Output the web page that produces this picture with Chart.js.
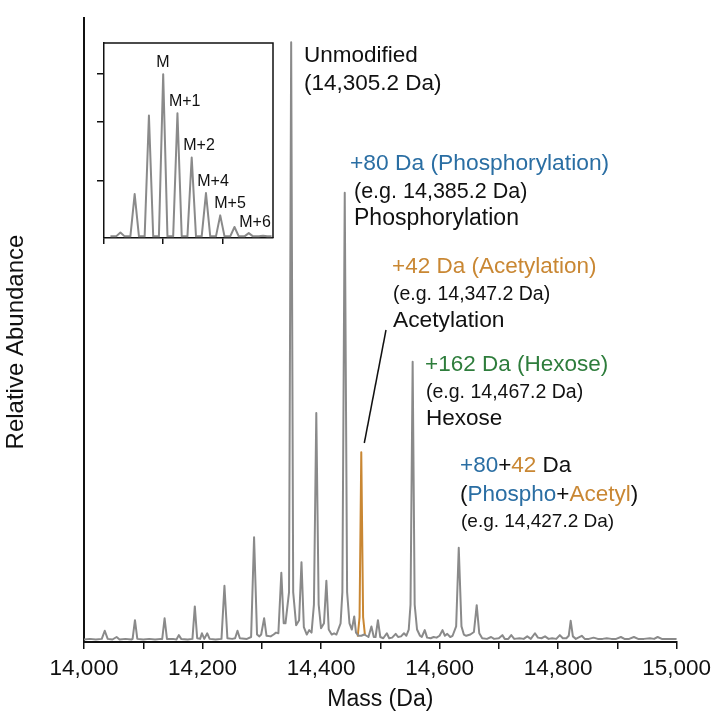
<!DOCTYPE html>
<html>
<head>
<meta charset="utf-8">
<script src="https://cdn.jsdelivr.net/npm/chart.js@4.4.1/dist/chart.umd.min.js"></script>
<style>
  html, body { margin: 0; padding: 0; background: #ffffff; }
  #wrap { position: relative; width: 717px; height: 717px; background: #ffffff; }
  #main { position: absolute; left: 0; top: 0; }
  #inset { position: absolute; left: 80px; top: 30px; }
</style>
</head>
<body>
<div id="wrap">
  <canvas id="main" width="717" height="717"></canvas>
  <canvas id="inset" width="210" height="230"></canvas>
</div>
<script>
// ---------------- DATA ----------------
// Main deconvoluted spectrum profile (mass in Da, relative abundance %)
const massDa = [
  14000,14010,14020,14030,14035,14040,14048,14055,14060,14070,14080,14082,14086,14090,
  14100,14110,14120,14130,14132,14136,14140,14150,14156,14160,14164,14175,14183,14187,
  14191,14196,14199,14203,14208,14212,14222,14232,14237,14242,14250,14255,14259,14263,
  14275,14282,14287,14292,14296,14299,14304,14308,14315,14320,14324,14328,14333,14337,
  14340,14346,14349.6,14353,14358,14363,14367,14371,14376,14380,14384,14388,14392,14396,
  14400,14405,14409,14413,14418,14422,14426,14433,14436,14440,14444,14448,14452,14456,
  14459,14463,14468,14473,14480,14485,14489,14492,14496,14500,14505,14511,14515,14520,
  14526,14530,14535,14540,14544,14548,14551,14554.6,14558,14562,14567,14570,14575,14579,
  14585,14590,14595,14600,14605,14609,14613,14618,14622,14628,14632.4,14637,14641,14645,
  14652,14658,14662.7,14667,14672,14680,14687,14692,14700,14706,14710,14716,14721,14726,
  14735,14742,14748,14754,14761,14766,14772,14778,14784,14790,14797,14803,14808,14814,
  14818,14821.3,14825,14830,14840,14845,14852,14860,14867,14875,14882,14890,14898,14906,
  14912,14920,14928,14935,14945,14955,14962,14968,14975,14985,14995,15000
];
const abundance = [
  0.4,0.5,0.4,0.5,1.8,0.5,0.4,0.8,0.4,0.5,0.4,0.5,3.5,0.5,
  0.4,0.5,0.4,0.5,0.5,3.8,0.5,0.5,0.4,1.1,0.5,0.4,0.5,5.7,
  0.6,0.5,1.4,0.5,1.4,0.5,0.4,0.5,9.0,0.6,0.5,0.6,1.8,0.6,
  0.5,0.8,16.8,1.2,0.9,1.2,3.8,1.0,0.9,1.2,1.5,1.4,11.1,3.0,
  3.0,8.0,96.1,8.0,2.7,3.5,12.8,2.4,1.2,1.9,1.5,6.0,36.7,6.0,
  2.2,3.0,9.8,2.0,1.2,1.4,1.2,3.0,8.0,72.0,8.0,3.0,2.0,4.1,
  1.5,1.0,1.0,1.2,0.8,2.5,0.8,0.8,3.5,0.8,0.6,1.4,0.6,0.7,
  1.3,0.8,0.9,1.4,1.0,2.0,6.0,44.9,6.0,2.0,1.0,0.8,1.9,0.7,
  0.6,0.8,0.7,1.0,1.9,1.0,1.3,0.8,1.0,2.5,15.1,2.5,1.2,1.0,
  1.2,1.6,5.9,1.4,0.6,0.5,0.8,0.5,0.6,1.1,0.5,0.5,1.1,0.5,
  0.6,0.5,0.9,0.5,1.4,0.7,0.6,0.9,0.5,0.6,0.5,1.1,0.6,0.6,
  1.0,3.4,0.9,0.5,1.0,0.5,0.5,0.7,0.5,0.5,0.6,0.5,0.5,0.8,
  0.5,0.5,0.8,0.5,0.5,0.6,0.5,0.8,0.5,0.5,0.5,0.5
];
// Acetylated peak highlighted in orange
const acetylMass = [14462, 14465, 14467.9, 14471, 14474];
const acetylAbundance = [1.0, 4.0, 30.4, 4.0, 1.2];

// Inset: isotope distribution (offset from peak M, relative height)
const insetOffset = [-3.7,-3.3,-3,-2.7,-2.3,-2,-1.7,-1.3,-1,-0.7,-0.3,0,0.3,0.7,1,1.3,1.7,2,2.3,2.7,3,3.3,3.7,4,4.3,4.7,5,5.3,5.7,6,6.3,6.7,7,7.3,7.6];
const insetHeight = [0.01,0.01,0.034,0.01,0.01,0.268,0.01,0.01,0.748,0.01,0.01,1.0,0.01,0.01,0.761,0.01,0.01,0.491,0.01,0.01,0.274,0.01,0.01,0.138,0.01,0.01,0.067,0.01,0.01,0.030,0.01,0.01,0.014,0.01,0.01];
const insetLabels = ["M", "M+1", "M+2", "M+4", "M+5", "M+6"];

// Axis tick settings
const xTickMin = 14000, xTickMax = 15000, xMinorStep = 100, xMajorStep = 200;

// ---------------- STYLE ----------------
const FONT = '"Liberation Sans", Arial, Helvetica, sans-serif';
const GRAY = '#8a8a8a';
const ORANGE = '#c98733';
const BLUE = '#2a6ea3';
const GREEN = '#2e7d3c';
const INK = '#111111';

const mainPoints = massDa.map((m, i) => ({x: m, y: abundance[i]}));
const acetylPoints = acetylMass.map((m, i) => ({x: m, y: acetylAbundance[i]}));
const insetPoints = insetOffset.map((o, i) => ({x: o, y: insetHeight[i]}));

// Annotation text blocks: [x, baselineY, fontSize, segments]
const annotations = [
  [304, 62, 22.5, [["Unmodified", INK]]],
  [304, 90, 22.5, [["(14,305.2 Da)", INK]]],
  [350, 170, 22.8, [["+80 Da (Phosphorylation)", BLUE]]],
  [354, 197.5, 21.5, [["(e.g. 14,385.2 Da)", INK]]],
  [354, 225, 23, [["Phosphorylation", INK]]],
  [392, 273, 22.5, [["+42 Da (Acetylation)", ORANGE]]],
  [393, 300, 19.5, [["(e.g. 14,347.2 Da)", INK]]],
  [393, 327, 22.8, [["Acetylation", INK]]],
  [425, 371, 22.5, [["+162 Da (Hexose)", GREEN]]],
  [426, 398, 19.5, [["(e.g. 14,467.2 Da)", INK]]],
  [426, 425, 22.5, [["Hexose", INK]]],
  [460, 472, 22.5, [["+80", BLUE], ["+", INK], ["42", ORANGE], [" Da", INK]]],
  [460, 500.5, 22.5, [["(", INK], ["Phospho", BLUE], ["+", INK], ["Acetyl", ORANGE], [")", INK]]],
  [461, 527, 19, [["(e.g. 14,427.2 Da)", INK]]]
];

const annotationPlugin = {
  id: 'annotationText',
  afterDraw(chart) {
    const ctx = chart.ctx;
    ctx.save();
    ctx.textBaseline = 'alphabetic';
    ctx.textAlign = 'left';
    annotations.forEach(([x, y, size, segs]) => {
      ctx.font = size + 'px ' + FONT;
      let cx = x;
      segs.forEach(([t, c]) => {
        ctx.fillStyle = c;
        ctx.fillText(t, cx, y);
        cx += ctx.measureText(t).width;
      });
    });
    // leader line to the acetylated peak
    ctx.strokeStyle = INK;
    ctx.lineWidth = 1.5;
    ctx.beginPath();
    ctx.moveTo(386, 330);
    ctx.lineTo(364.3, 443);
    ctx.stroke();
    // y-axis title
    ctx.translate(16, 342);
    ctx.rotate(-Math.PI / 2);
    ctx.font = '24px ' + FONT;
    ctx.fillStyle = INK;
    ctx.textAlign = 'center';
    ctx.textBaseline = 'middle';
    ctx.fillText('Relative Abundance', 0, 0);
    ctx.restore();
  }
};

new Chart(document.getElementById('main'), {
  type: 'scatter',
  data: {
    datasets: [
      { data: mainPoints, showLine: true, borderColor: GRAY, borderWidth: 2, pointRadius: 0, tension: 0, fill: false },
      { data: acetylPoints, showLine: true, borderColor: ORANGE, borderWidth: 2, pointRadius: 0, tension: 0, fill: false }
    ]
  },
  options: {
    responsive: false,
    animation: false,
    devicePixelRatio: 1,
    layout: { padding: { top: 18, right: 38, left: 0, bottom: 0 } },
    plugins: { legend: { display: false }, tooltip: { enabled: false } },
    elements: { line: { borderJoinStyle: 'round', borderCapStyle: 'round' } },
    scales: {
      x: {
        type: 'linear', min: xTickMin, max: xTickMax,
        ticks: {
          stepSize: xMinorStep, autoSkip: false, maxRotation: 0, padding: 6,
          color: INK, font: { family: FONT, size: 22.5 },
          callback: v => (v % xMajorStep === 0 ? v.toLocaleString('en-US') : '')
        },
        grid: { drawOnChartArea: false, drawTicks: true, tickLength: 7, color: INK, lineWidth: 1.5 },
        border: { display: true, color: INK, width: 2 },
        title: { display: true, text: 'Mass (Da)', color: INK, font: { family: FONT, size: 23 }, padding: { top: 4, bottom: 4 } },
        afterFit: s => { s.height = 75; }
      },
      y: {
        type: 'linear', min: 0, max: 100,
        ticks: { display: false },
        grid: { drawOnChartArea: false, drawTicks: false },
        border: { display: true, color: INK, width: 2 },
        title: { display: false },
        afterFit: s => { s.width = 84; }
      }
    }
  },
  plugins: [annotationPlugin]
});

// ---------------- INSET ----------------
const insetLabelPos = [[83, 32.7], [104.7, 71.7], [119, 116], [133, 151.7], [150, 174], [175, 192.7]];
const insetPlugin = {
  id: 'insetDecor',
  afterDraw(chart) {
    const ctx = chart.ctx;
    const a = chart.chartArea;
    ctx.save();
    ctx.strokeStyle = INK;
    ctx.lineWidth = 1.5;
    ctx.beginPath();
    ctx.moveTo(a.left, a.top);
    ctx.lineTo(a.right, a.top);
    ctx.lineTo(a.right, a.bottom);
    ctx.stroke();
    ctx.fillStyle = INK;
    ctx.font = '16px ' + FONT;
    ctx.textAlign = 'center';
    ctx.textBaseline = 'middle';
    insetLabels.forEach((t, i) => ctx.fillText(t, insetLabelPos[i][0], insetLabelPos[i][1]));
    ctx.restore();
  }
};

new Chart(document.getElementById('inset'), {
  type: 'scatter',
  data: { datasets: [{ data: insetPoints, showLine: true, borderColor: GRAY, borderWidth: 2, pointRadius: 0, tension: 0 }] },
  options: {
    responsive: false,
    animation: false,
    devicePixelRatio: 1,
    layout: { padding: { top: 13, right: 17, left: 0, bottom: 0 } },
    plugins: { legend: { display: false }, tooltip: { enabled: false } },
    elements: { line: { borderJoinStyle: 'round' } },
    scales: {
      x: {
        type: 'linear', min: -4.15, max: 7.7,
        afterBuildTicks: s => { s.ticks = [{ value: -4.15 }, { value: 0 }, { value: 4.15 }]; },
        ticks: { callback: () => '' },
        grid: { drawOnChartArea: false, drawTicks: true, tickLength: 6, color: INK, lineWidth: 1.5 },
        border: { display: true, color: INK, width: 1.5 },
        afterFit: s => { s.height = 22; }
      },
      y: {
        type: 'linear', min: 0, max: 1.19,
        afterBuildTicks: s => { s.ticks = [{ value: 0.35 }, { value: 0.71 }, { value: 1.0 }]; },
        ticks: { callback: () => '' },
        grid: { drawOnChartArea: false, drawTicks: true, tickLength: 7, color: INK, lineWidth: 1.5 },
        border: { display: true, color: INK, width: 1.5 },
        afterFit: s => { s.width = 24; }
      }
    }
  },
  plugins: [insetPlugin]
});
</script>
</body>
</html>
